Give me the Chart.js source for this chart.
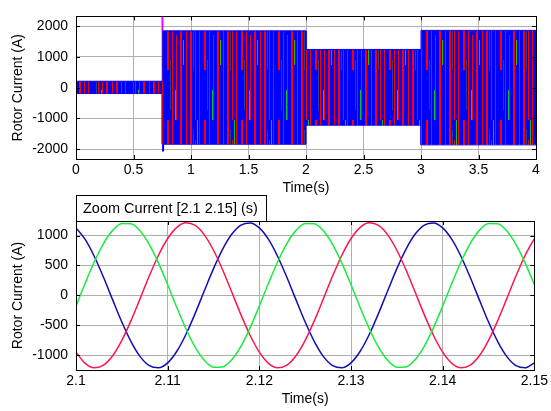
<!DOCTYPE html>
<html>
<head>
<meta charset="utf-8">
<script src="https://cdn.jsdelivr.net/npm/chart.js@4.4.1/dist/chart.umd.min.js"></script>
<style>
  body { margin: 0; background: #fff; width: 551px; height: 411px; overflow: hidden; position: relative; }
  canvas { position: absolute; left: 0; }
  #top-chart { top: 0; }
  #zoom-chart { top: 190px; }
</style>
</head>
<body>
<canvas id="top-chart" width="551" height="200"></canvas>
<canvas id="zoom-chart" width="551" height="221"></canvas>
<script>
// Top plot: envelope of the three-phase rotor current, 0..4 s
const topTime  = [0, 0.75, 0.75, 2, 2, 3, 3, 4];
const topUpper = [210, 210, 1850, 1850, 1245, 1245, 1865, 1865];
const topLower = [-190, -190, -1840, -1840, -1220, -1220, -1860, -1860];
// switching transient at 0.75 s
const spikeTime = [0.752, 0.752];
const spikeVals = [1850, 2320];
const dipTime = [0.757, 0.757];
const dipVals = [-1840, -2080];

const topXTicks = [0, 0.5, 1, 1.5, 2, 2.5, 3, 3.5, 4];
const topXLabels = ['0', '0.5', '1', '1.5', '2', '2.5', '3', '3.5', '4'];
const topYTicks = [-2000, -1000, 0, 1000, 2000];

// Bottom plot: zoom 2.1..2.15 s
const zoomTime = [
  2.100, 2.101, 2.102, 2.103, 2.104, 2.105, 2.106, 2.107, 2.108, 2.109,
  2.110, 2.111, 2.112, 2.113, 2.114, 2.115, 2.116, 2.117, 2.118, 2.119,
  2.120, 2.121, 2.122, 2.123, 2.124, 2.125, 2.126, 2.127, 2.128, 2.129,
  2.130, 2.131, 2.132, 2.133, 2.134, 2.135, 2.136, 2.137, 2.138, 2.139,
  2.140, 2.141, 2.142, 2.143, 2.144, 2.145, 2.146, 2.147, 2.148, 2.149,
  2.150
];
const phaseBlue = [
  1130, 936, 651, 302, -76, -447, -774, -1026, -1177, -1213,
  -1130, -936, -651, -302, 76, 447, 774, 1026, 1177, 1213,
  1130, 936, 651, 302, -76, -447, -774, -1026, -1177, -1213,
  -1130, -936, -651, -302, 76, 447, 774, 1026, 1177, 1213,
  1130, 936, 651, 302, -76, -447, -774, -1026, -1177, -1213,
  -1130
];
const phaseRed = [
  -952, -1139, -1214, -1170, -1012, -755, -424, -51, 327, 672,
  952, 1139, 1214, 1170, 1012, 755, 424, 51, -327, -672,
  -952, -1139, -1214, -1170, -1012, -755, -424, -51, 327, 672,
  952, 1139, 1214, 1170, 1012, 755, 424, 51, -327, -672,
  -952, -1139, -1214, -1170, -1012, -755, -424, -51, 327, 672,
  952
];
const phaseGreen = [
  -178, 203, 563, 868, 1088, 1202, 1198, 1077, 850, 540,
  178, -203, -563, -868, -1088, -1202, -1198, -1077, -850, -540,
  -178, 203, 563, 868, 1088, 1202, 1198, 1077, 850, 540,
  178, -203, -563, -868, -1088, -1202, -1198, -1077, -850, -540,
  -178, 203, 563, 868, 1088, 1202, 1198, 1077, 850, 540,
  178
];
const zoomXTicks = [2.1, 2.11, 2.12, 2.13, 2.14, 2.15];
const zoomXLabels = ['2.1', '2.11', '2.12', '2.13', '2.14', '2.15'];
const zoomYTicks = [-1000, -500, 0, 500, 1000];
const zoomTitle = 'Zoom Current [2.1 2.15] (s)';

Chart.defaults.font.family = 'Arial, "Liberation Sans", sans-serif';
Chart.defaults.font.size = 14;
Chart.defaults.color = '#000';

function toPoints(xs, ys) {
  return xs.map((x, i) => ({ x: x, y: ys[i] }));
}

// dense three-phase band drawn as a striped fill (style only)
function makeStripes() {
  const c = document.createElement('canvas');
  c.width = 37;
  c.height = 120;
  const g = c.getContext('2d');
  g.fillStyle = '#0000ff';
  g.fillRect(0, 0, 37, 120);
  g.fillStyle = '#ff0000';
  g.fillRect(1, 0, 1, 120);
  g.fillRect(5, 0, 2, 120);
  g.fillRect(10, 20, 1, 100);
  g.fillRect(14, 0, 1, 120);
  g.fillRect(19, 0, 2, 70);
  g.fillRect(24, 0, 1, 120);
  g.fillRect(28, 35, 1, 85);
  g.fillRect(32, 0, 2, 120);
  g.fillStyle = '#10c020';
  g.fillRect(12, 0, 1, 30);
  g.fillRect(27, 90, 1, 30);
  g.fillRect(35, 40, 1, 25);
  g.fillStyle = '#2040b0';
  g.fillRect(8, 10, 1, 60);
  g.fillRect(22, 60, 1, 50);
  return g.createPattern(c, 'repeat');
}

// black box + inward ticks, MATLAB style
const framePlugin = {
  id: 'frame',
  afterDatasetsDraw(chart) {
    const { ctx, chartArea: a, scales } = chart;
    ctx.save();
    ctx.strokeStyle = '#000';
    ctx.lineWidth = 1;
    ctx.beginPath();
    scales.x.ticks.forEach(t => {
      const px = Math.round(scales.x.getPixelForValue(t.value)) + 0.5;
      ctx.moveTo(px, a.bottom); ctx.lineTo(px, a.bottom - 4);
      ctx.moveTo(px, a.top); ctx.lineTo(px, a.top + 4);
    });
    scales.y.ticks.forEach(t => {
      const py = Math.round(scales.y.getPixelForValue(t.value)) + 0.5;
      ctx.moveTo(a.left, py); ctx.lineTo(a.left + 4, py);
      ctx.moveTo(a.right, py); ctx.lineTo(a.right - 4, py);
    });
    ctx.stroke();
    ctx.strokeRect(Math.round(a.left) + 0.5, Math.round(a.top) + 0.5,
      Math.round(a.right - a.left), Math.round(a.bottom - a.top));
    ctx.restore();
  }
};

const zoomBoxPlugin = {
  id: 'zoomBox',
  afterDraw(chart) {
    const { ctx, chartArea: a } = chart;
    ctx.save();
    ctx.fillStyle = '#fff';
    ctx.fillRect(a.left, 5, 190, a.top - 5);
    ctx.strokeStyle = '#000';
    ctx.lineWidth = 1;
    ctx.strokeRect(Math.round(a.left) + 0.5, 5.5, 190, a.top - 5);
    ctx.fillStyle = '#000';
    ctx.font = '14.5px Arial, "Liberation Sans", sans-serif';
    ctx.textBaseline = 'middle';
    ctx.fillText(zoomTitle, a.left + 7, 5 + (a.top - 5) / 2 + 1);
    ctx.restore();
  }
};

function makeOptions(cfg) {
  return {
    responsive: false,
    animation: false,
    layout: { padding: { top: cfg.padTop, right: 15, bottom: 0, left: 0 } },
    plugins: { legend: { display: false }, tooltip: { enabled: false } },
    elements: { point: { radius: 0 } },
    scales: {
      x: {
        type: 'linear',
        min: cfg.xMin,
        max: cfg.xMax,
        afterBuildTicks: s => { s.ticks = cfg.xTicks.map(v => ({ value: v })); },
        afterFit: s => { s.height = 41; },
        ticks: { padding: 3, maxRotation: 0, callback: (v, i) => cfg.xLabels[i] },
        grid: { color: '#b0b0b0', lineWidth: 1, drawTicks: false },
        border: { display: false },
        title: { display: true, text: 'Time(s)', padding: { top: 0, bottom: 3 } }
      },
      y: {
        min: cfg.yMin,
        max: cfg.yMax,
        afterBuildTicks: s => { s.ticks = cfg.yTicks.map(v => ({ value: v })); },
        afterFit: s => { s.width = 76; },
        ticks: { padding: 8, callback: v => String(v) },
        grid: { color: '#b0b0b0', lineWidth: 1, drawTicks: false },
        border: { display: false },
        title: { display: true, text: 'Rotor Current (A)', padding: { top: 10, bottom: 0 } }
      }
    }
  };
}

new Chart(document.getElementById('top-chart'), {
  type: 'line',
  data: {
    datasets: [
      {
        data: toPoints(topTime, topUpper),
        borderColor: '#0000ff',
        borderWidth: 1,
        backgroundColor: makeStripes(),
        fill: '+1',
        tension: 0
      },
      {
        data: toPoints(topTime, topLower),
        borderColor: '#0000ff',
        borderWidth: 1,
        fill: false,
        tension: 0
      },
      {
        data: toPoints(spikeTime, spikeVals),
        borderColor: '#ff00ff',
        borderWidth: 2,
        fill: false
      },
      {
        data: toPoints(dipTime, dipVals),
        borderColor: '#0000ff',
        borderWidth: 2,
        fill: false
      }
    ]
  },
  options: makeOptions({
    padTop: 10, xMin: 0, xMax: 4, xTicks: topXTicks, xLabels: topXLabels,
    yMin: -2320, yMax: 2320, yTicks: topYTicks
  }),
  plugins: [framePlugin]
});

new Chart(document.getElementById('zoom-chart'), {
  type: 'line',
  data: {
    datasets: [
      { data: toPoints(zoomTime, phaseGreen), borderColor: '#18ec40', borderWidth: 1.5, fill: false, cubicInterpolationMode: 'monotone' },
      { data: toPoints(zoomTime, phaseRed), borderColor: '#ff1450', borderWidth: 1.5, fill: false, cubicInterpolationMode: 'monotone' },
      { data: toPoints(zoomTime, phaseBlue), borderColor: '#1010b4', borderWidth: 1.5, fill: false, cubicInterpolationMode: 'monotone' }
    ]
  },
  options: makeOptions({
    padTop: 31, xMin: 2.1, xMax: 2.15, xTicks: zoomXTicks, xLabels: zoomXLabels,
    yMin: -1250, yMax: 1245, yTicks: zoomYTicks
  }),
  plugins: [framePlugin, zoomBoxPlugin]
});
</script>
</body>
</html>
